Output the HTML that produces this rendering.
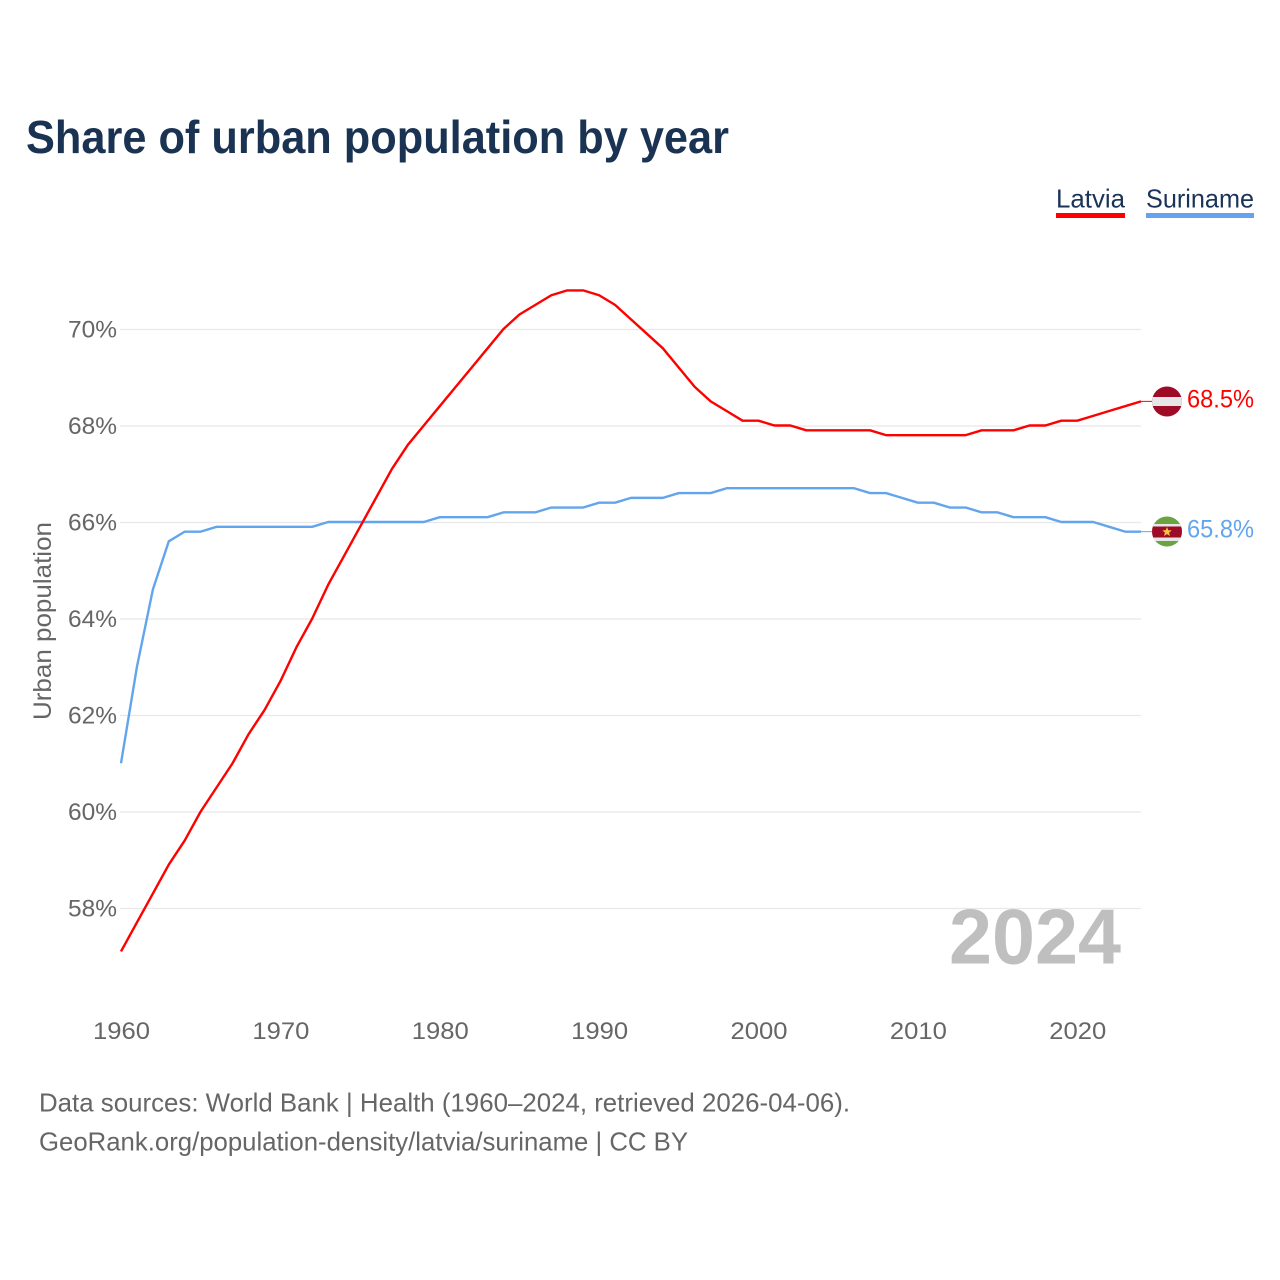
<!DOCTYPE html>
<html lang="en">
<head>
<meta charset="utf-8">
<title>Share of urban population by year</title>
<style>
html,body{margin:0;padding:0;background:#fff;}
svg{display:block;}
text{font-family:"Liberation Sans",sans-serif;}
</style>
</head>
<body>
<svg id="chart" width="1280" height="1280" viewBox="0 0 1280 1280" xmlns="http://www.w3.org/2000/svg">
  <defs>
    <clipPath id="flag-clip-latvia"><circle cx="1167" cy="401.5" r="15"/></clipPath>
    <clipPath id="flag-clip-suriname"><circle cx="1167" cy="531.5" r="15"/></clipPath>
  </defs>
  <rect x="0" y="0" width="1280" height="1280" fill="#ffffff"/>
  <text x="26" y="153" font-size="46" font-weight="700" fill="#1a3353" textLength="703" lengthAdjust="spacingAndGlyphs">Share of urban population by year</text>

  <g>
    <text x="1056" y="207.5" font-size="26" fill="#1a3358" textLength="69" lengthAdjust="spacingAndGlyphs">Latvia</text>
    <rect x="1056" y="213" width="69" height="5" fill="#ff0000"/>
    <text x="1146" y="207.5" font-size="26" fill="#1a3358" textLength="108" lengthAdjust="spacingAndGlyphs">Suriname</text>
    <rect x="1146" y="213" width="108" height="5" fill="#63a5ec"/>
  </g>

  <g id="grid"></g>
  <g id="y-ticks"></g>
  <g id="x-ticks"></g>

  <text transform="translate(51,720) rotate(-90)" x="0" y="0" font-size="25" fill="#666666" textLength="198" lengthAdjust="spacingAndGlyphs">Urban population</text>

  <text x="949" y="963.5" font-size="78" font-weight="700" fill="#bfbfbf" textLength="172" lengthAdjust="spacingAndGlyphs">2024</text>

  <polyline id="line-suriname" fill="none" stroke="#63a5ec" stroke-width="2.4" stroke-linejoin="round"/>
  <polyline id="line-latvia" fill="none" stroke="#ff0000" stroke-width="2.4" stroke-linejoin="round"/>

  <line id="leader-latvia" x1="1141" x2="1153" stroke="#ff0000" stroke-width="1"/>
  <line id="leader-suriname" x1="1141" x2="1153" stroke="#63a5ec" stroke-width="1"/>

  <g clip-path="url(#flag-clip-latvia)">
    <rect x="1152" y="386" width="30" height="31" fill="#9e0b27"/>
    <rect x="1152" y="397" width="30" height="9" fill="#e6e6e6"/>
  </g>
  <g clip-path="url(#flag-clip-suriname)">
    <rect x="1152" y="516" width="30" height="31" fill="#6aa340"/>
    <rect x="1152" y="524" width="30" height="17" fill="#e6e6e6"/>
    <rect x="1152" y="526.5" width="30" height="11" fill="#9e0b27"/>
    <polygon points="1167,527 1168.3,530.2 1171.7,530.4 1169.1,532.6 1169.9,536 1167,534.1 1164.1,536 1164.9,532.6 1162.3,530.4 1165.7,530.2" fill="#f5c63c"/>
  </g>

  <text id="value-latvia" x="1187" y="407.5" font-size="25" fill="#ff0000" textLength="67" lengthAdjust="spacingAndGlyphs">68.5%</text>
  <text id="value-suriname" x="1187" y="537.5" font-size="25" fill="#63a5ec" textLength="67" lengthAdjust="spacingAndGlyphs">65.8%</text>

  <text x="39" y="1111.5" font-size="26" fill="#666666" textLength="811" lengthAdjust="spacingAndGlyphs">Data sources: World Bank | Health (1960–2024, retrieved 2026-04-06).</text>
  <text x="39" y="1150.5" font-size="26" fill="#666666" textLength="649" lengthAdjust="spacingAndGlyphs">GeoRank.org/population-density/latvia/suriname | CC BY</text>
</svg>
<script>
const startYear = 1960;
const yTickValues = [58, 60, 62, 64, 66, 68, 70];
const xTickValues = [1960, 1970, 1980, 1990, 2000, 2010, 2020];
const latviaValues = [
  57.1, 57.7, 58.3, 58.9, 59.4, 60.0, 60.5, 61.0, 61.6, 62.1,
  62.7, 63.4, 64.0, 64.7, 65.3, 65.9, 66.5, 67.1, 67.6, 68.0,
  68.4, 68.8, 69.2, 69.6, 70.0, 70.3, 70.5, 70.7, 70.8, 70.8,
  70.7, 70.5, 70.2, 69.9, 69.6, 69.2, 68.8, 68.5, 68.3, 68.1,
  68.1, 68.0, 68.0, 67.9, 67.9, 67.9, 67.9, 67.9, 67.8, 67.8,
  67.8, 67.8, 67.8, 67.8, 67.9, 67.9, 67.9, 68.0, 68.0, 68.1,
  68.1, 68.2, 68.3, 68.4, 68.5
];
const surinameValues = [
  61.0, 63.0, 64.6, 65.6, 65.8, 65.8, 65.9, 65.9, 65.9, 65.9,
  65.9, 65.9, 65.9, 66.0, 66.0, 66.0, 66.0, 66.0, 66.0, 66.0,
  66.1, 66.1, 66.1, 66.1, 66.2, 66.2, 66.2, 66.3, 66.3, 66.3,
  66.4, 66.4, 66.5, 66.5, 66.5, 66.6, 66.6, 66.6, 66.7, 66.7,
  66.7, 66.7, 66.7, 66.7, 66.7, 66.7, 66.7, 66.6, 66.6, 66.5,
  66.4, 66.4, 66.3, 66.3, 66.2, 66.2, 66.1, 66.1, 66.1, 66.0,
  66.0, 66.0, 65.9, 65.8, 65.8
];

const NS = 'http://www.w3.org/2000/svg';
function xScale(year) { return 121 + (year - 1960) * (1141 - 121) / 64; }
function yScale(v) { return 329.5 + (70 - v) * (908.5 - 329.5) / 12; }
function svgEl(tag, attrs, text) {
  const el = document.createElementNS(NS, tag);
  for (const k in attrs) el.setAttribute(k, attrs[k]);
  if (text !== undefined) el.textContent = text;
  return el;
}

const gridGroup = document.getElementById('grid');
const yGroup = document.getElementById('y-ticks');
yTickValues.forEach(function (v) {
  const line = svgEl('line', { x1: 120, x2: 1141, y1: yScale(v), y2: yScale(v), stroke: '#e8e8e8', 'stroke-width': 1.2 });
  
  
  gridGroup.appendChild(line);
  const label = svgEl('text', { x: 68, y: yScale(v) + 8, 'font-size': 24, fill: '#666666', textLength: 49, lengthAdjust: 'spacingAndGlyphs' }, v + '%');
  
  
  yGroup.appendChild(label);
});

const xGroup = document.getElementById('x-ticks');
xTickValues.forEach(function (yr) {
  const label = svgEl('text', { x: xScale(yr) - 28, y: 1039, 'font-size': 24, fill: '#666666', textLength: 57, lengthAdjust: 'spacingAndGlyphs' }, String(yr));
  
  
  xGroup.appendChild(label);
});

function pointsFor(values) {
  return values.map(function (v, i) {
    return xScale(startYear + i).toFixed(2) + ',' + (yScale(v) - 0.5).toFixed(2);
  }).join(' ');
}
document.getElementById('line-latvia').setAttribute('points', pointsFor(latviaValues));
document.getElementById('line-suriname').setAttribute('points', pointsFor(surinameValues));

function setEnd(values, leaderId, valueId) {
  const last = values[values.length - 1];
  const leader = document.getElementById(leaderId);
  leader.setAttribute('y1', yScale(last) - 0.5);
  leader.setAttribute('y2', yScale(last) - 0.5);
  document.getElementById(valueId).textContent = last.toFixed(1) + '%';
}
setEnd(latviaValues, 'leader-latvia', 'value-latvia');
setEnd(surinameValues, 'leader-suriname', 'value-suriname');
</script>
</body>
</html>
